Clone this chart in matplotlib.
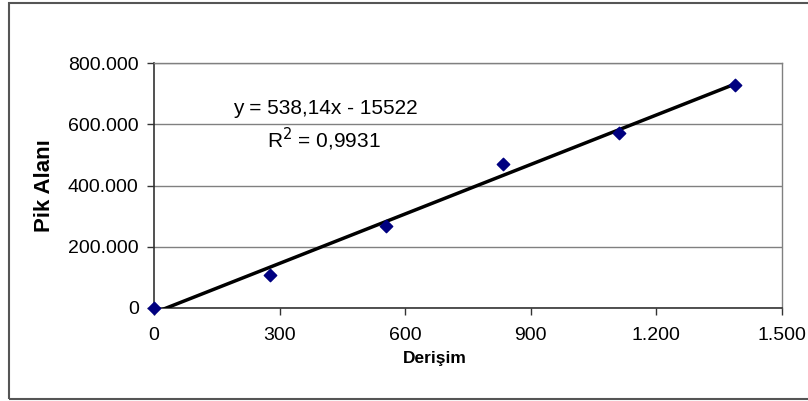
import matplotlib
matplotlib.use("Agg")
import matplotlib.pyplot as plt
import numpy as np
from matplotlib.ticker import FuncFormatter, MultipleLocator
from matplotlib.patches import Rectangle

plt.rcParams["font.family"] = ["Liberation Sans", "DejaVu Sans"]

# Dados
derisim = [0, 277.5, 555, 832.5, 1110, 1387.5]
pik_alani = [0, 108000, 268000, 471000, 572000, 727000]
equation_text = "y = 538,14x - 15522"
r2_text = "R$^2$ = 0,9931"


def tr_format(v, pos):
    # separador de milhar com ponto
    return f"{int(round(v)):,}".replace(",", ".")


fig = plt.figure(figsize=(8.08, 4.01), dpi=100)
fig.patch.set_facecolor("white")

# moldura externa do gráfico
fig.patches.append(Rectangle((9 / 808, 2 / 401), 1.0, 396 / 401, transform=fig.transFigure,
                             fill=False, edgecolor="#555555", linewidth=1.5))

ax = fig.add_axes([154 / 808, 1 - 308 / 401, (782 - 154) / 808, (308 - 63) / 401])

x = np.array(derisim)
y = np.array(pik_alani)
coef = np.polyfit(x, y, 1)
xl = np.array([0, x.max()])
ax.plot(xl, np.polyval(coef, xl), color="black", linewidth=2.5, zorder=3, clip_on=True)
ax.scatter(x, y, marker="D", s=40, color="#000080", zorder=4, clip_on=False)

ax.set_xlim(0, 1500)
ax.set_ylim(0, 800000)
ax.xaxis.set_major_locator(MultipleLocator(300))
ax.yaxis.set_major_locator(MultipleLocator(200000))
ax.xaxis.set_major_formatter(FuncFormatter(tr_format))
ax.yaxis.set_major_formatter(FuncFormatter(tr_format))
ax.grid(axis="y", color="#808080", linewidth=1)
ax.set_axisbelow(True)

for s in ["top", "right"]:
    ax.spines[s].set_color("#808080")
    ax.spines[s].set_linewidth(1)
for s in ["left", "bottom"]:
    ax.spines[s].set_color("#333333")
    ax.spines[s].set_linewidth(1.2)

ax.tick_params(direction="out", length=5, width=1, color="#333333", labelsize=14)
ax.tick_params(axis="x", pad=9)
ax.tick_params(axis="y", pad=6)

ax.set_xlabel("Derişim", fontsize=12.5, fontweight="bold")
ax.xaxis.set_label_coords((435 - 154) / 628, -(358 - 308) / 245)
ax.xaxis.label.set_va("center")
ax.set_ylabel("Pik Alanı", fontsize=16, fontweight="bold")
ax.yaxis.set_label_coords((44 - 154) / 628, 0.5)
ax.yaxis.label.set_va("center")

ax.text(410, 653000, equation_text, fontsize=15, ha="center", va="center")
ax.text(405, 552000, r2_text, fontsize=15, ha="center", va="center")

fig.savefig("out.png", dpi=100)
